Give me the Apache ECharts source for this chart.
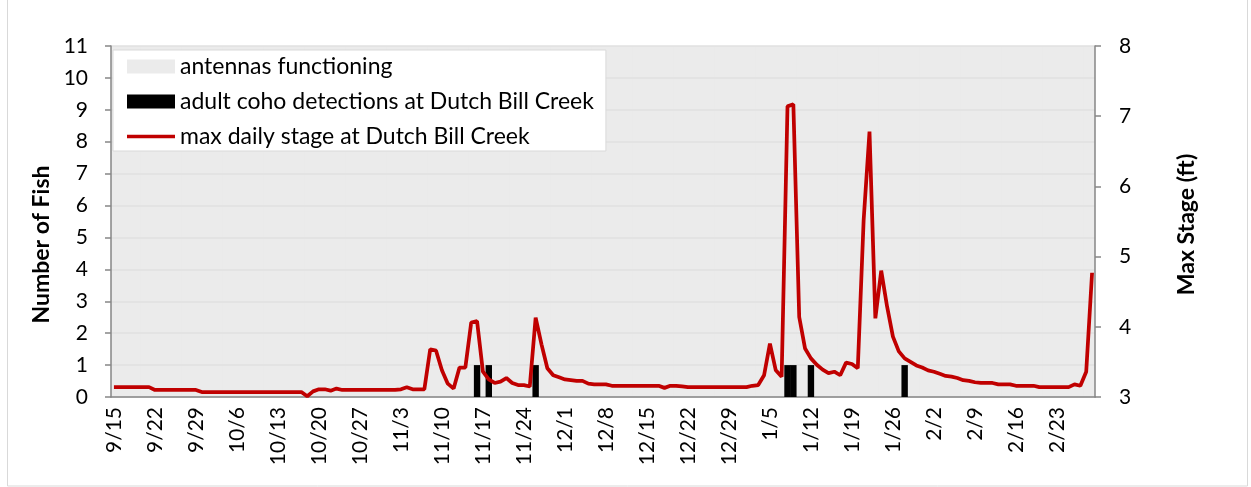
<!DOCTYPE html>
<html>
<head>
<meta charset="utf-8">
<script src="https://cdn.jsdelivr.net/npm/echarts@6/dist/echarts.min.js"></script>
<style>
  html, body { margin: 0; padding: 0; background: #fff; }
  #chart { width: 1251px; height: 487px; }
</style>
</head>
<body>
<div id="chart"></div>
<script>
// Coho detections vs. stage at Dutch Bill Creek, 9/15 - 3/1 (daily)

// x axis: one category per day, starting 9/15
const startMonth = 8, startDay = 15, dayCount = 168;
const categories = [];
for (let i = 0; i < dayCount; i++) {
    const d = new Date(2014, startMonth, startDay + i);
    categories.push((d.getMonth() + 1) + '/' + d.getDate());
}

// antennas worked for the whole period (first day index, last day index)
const antennaPeriods = [[0, 167]];

// days with adult coho detections, and the count on each
const detectionDays = [62, 64, 72, 115, 116, 119, 135];
const detectionCounts = [1, 1, 1, 1, 1, 1, 1];

// max daily stage (ft), one per day
const maxStage = [
    3.14, 3.14, 3.14, 3.14, 3.14, 3.14, 3.14, 3.10, 3.10, 3.10, 3.10, 3.10, 3.10, 3.10,
    3.10, 3.07, 3.07, 3.07, 3.07, 3.07, 3.07, 3.07, 3.07, 3.07, 3.07, 3.07, 3.07, 3.07,
    3.07, 3.07, 3.07, 3.07, 3.07, 3.01, 3.08, 3.11, 3.11, 3.09, 3.12, 3.10, 3.10, 3.10,
    3.10, 3.10, 3.10, 3.10, 3.10, 3.10, 3.10, 3.11, 3.14, 3.11, 3.11, 3.11, 3.68, 3.66,
    3.38, 3.19, 3.12, 3.42, 3.42, 4.06, 4.08, 3.36, 3.25, 3.20, 3.22, 3.27, 3.20, 3.17,
    3.17, 3.15, 4.13, 3.75, 3.41, 3.31, 3.28, 3.25, 3.24, 3.23, 3.23, 3.19, 3.18, 3.18,
    3.18, 3.16, 3.16, 3.16, 3.16, 3.16, 3.16, 3.16, 3.16, 3.16, 3.13, 3.16, 3.16, 3.15,
    3.14, 3.14, 3.14, 3.14, 3.14, 3.14, 3.14, 3.14, 3.14, 3.14, 3.14, 3.16, 3.17, 3.31,
    3.76, 3.38, 3.29, 7.14, 7.17, 4.14, 3.69, 3.55, 3.46, 3.39, 3.34, 3.36, 3.31, 3.49,
    3.47, 3.41, 5.52, 6.78, 4.12, 4.80, 4.29, 3.86, 3.65, 3.55, 3.50, 3.45, 3.42, 3.38,
    3.36, 3.33, 3.30, 3.29, 3.27, 3.24, 3.23, 3.21, 3.20, 3.20, 3.20, 3.18, 3.18, 3.18,
    3.16, 3.16, 3.16, 3.16, 3.14, 3.14, 3.14, 3.14, 3.14, 3.14, 3.18, 3.16, 3.36, 4.77
];

const fishMax = 11;

// full-height grey bars for every day the antennas worked
const antennaData = [];
antennaPeriods.forEach(([a, b]) => {
    for (let i = a; i <= b; i++) antennaData.push([categories[i], fishMax]);
});
const detectionData = detectionDays.map((d, i) => [categories[d], detectionCounts[i]]);

const FONT = 'Lato';
const AXIS_GREY = '#868686';
const GREY_FILL = '#EBEBEB';
const STAGE_RED = '#C00000';

const chart = echarts.init(document.getElementById('chart'));
chart.setOption({
    animation: false,
    textStyle: { fontFamily: FONT, color: '#000' },
    grid: { left: 111, right: 156, top: 46, bottom: 90 },
    graphic: [{
        type: 'rect',
        shape: { x: 7.5, y: -2, width: 1240, height: 488 },
        style: { fill: 'none', stroke: '#D9D9D9', lineWidth: 1 },
        silent: true
    }],
    legend: {
        left: 113, top: 50,
        orient: 'vertical',
        backgroundColor: '#fff',
        borderColor: '#D9D9D9',
        borderWidth: 1,
        padding: [5, 12, 3, 14],
        itemWidth: 48,
        itemHeight: 14,
        itemGap: 12,
        textStyle: { fontFamily: FONT, fontSize: 23, color: '#000' },
        data: [
            { name: 'antennas functioning', icon: 'rect' },
            { name: 'adult coho detections at Dutch Bill Creek', icon: 'rect' },
            // plain red stroke, padded box keeps it 48x14
            { name: 'max daily stage at Dutch Bill Creek',
              icon: 'path://M0,0M0,14M0,5.3L48,5.3L48,8.7L0,8.7Z' }
        ]
    },
    xAxis: {
        type: 'category',
        data: categories,
        boundaryGap: true,
        axisLine: { lineStyle: { color: AXIS_GREY, width: 1.5 } },
        axisTick: { interval: 6, length: 6, lineStyle: { color: AXIS_GREY, width: 1.5 } },
        axisLabel: { interval: 6, rotate: 90, fontSize: 21, margin: 10, color: '#000' },
        splitLine: { show: false }
    },
    yAxis: [{
        type: 'value',
        min: 0, max: fishMax, interval: 1,
        name: 'Number of Fish',
        nameLocation: 'middle',
        nameRotate: 90,
        nameGap: 56,
        // right padding pushes the rotated title a little lower, as in the original
        nameTextStyle: { fontFamily: FONT, fontSize: 23, fontWeight: 'bold', color: '#000', padding: [0, 46, 0, 0] },
        axisLine: { show: true, lineStyle: { color: AXIS_GREY, width: 1.5 } },
        axisTick: { show: true, length: 6, lineStyle: { color: AXIS_GREY, width: 1.5 } },
        axisLabel: { fontSize: 21, margin: 23, color: '#000' },
        splitLine: { show: true, lineStyle: { color: '#E0E0E0', width: 1.5 } }
    }, {
        type: 'value',
        min: 3, max: 8, interval: 1,
        position: 'right',
        name: 'Max Stage (ft)',
        nameLocation: 'middle',
        nameRotate: 90,
        nameGap: 80,
        nameTextStyle: { fontFamily: FONT, fontSize: 23, fontWeight: 'bold', color: '#000', padding: [0, 6, 0, 0] },
        axisLine: { show: true, lineStyle: { color: AXIS_GREY, width: 1.5 } },
        axisTick: { show: true, length: 6, lineStyle: { color: AXIS_GREY, width: 1.5 } },
        axisLabel: { fontSize: 21, margin: 24, color: '#000' },
        splitLine: { show: false }
    }],
    series: [{
        name: 'antennas functioning',
        type: 'bar',
        yAxisIndex: 0,
        data: antennaData,
        barGap: '-100%',
        barWidth: 6.6,            // a hair wider than a day so neighbours overlap (no seams)
        itemStyle: { color: GREY_FILL },
        z: -1,
        silent: true
    }, {
        name: 'adult coho detections at Dutch Bill Creek',
        type: 'bar',
        yAxisIndex: 0,
        data: detectionData,
        barGap: '-100%',
        barWidth: 6.4,
        itemStyle: { color: '#000' },
        z: 3
    }, {
        name: 'max daily stage at Dutch Bill Creek',
        type: 'line',
        yAxisIndex: 1,
        data: maxStage,
        symbol: 'none',
        lineStyle: { color: STAGE_RED, width: 3.75 },
        itemStyle: { color: STAGE_RED },
        z: 4
    }]
});
</script>
</body>
</html>
